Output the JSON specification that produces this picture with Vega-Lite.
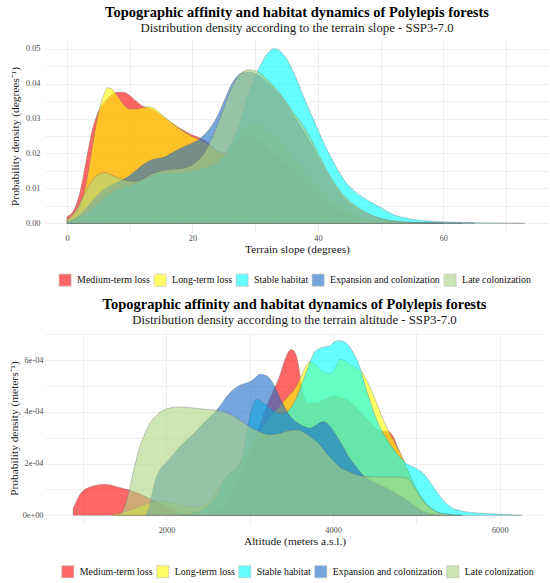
{
  "$schema": "https://vega.github.io/schema/vega-lite/v6.json",
  "padding": {"left": 8, "top": 4, "right": 0, "bottom": 0},
  "config": {
    "font": "Liberation Serif",
    "view": {"stroke": null},
    "axis": {"grid": true, "gridColor": "#EBEBEB", "gridWidth": 0.8, "domain": false, "ticks": false, "tickSize": 0, "labelFont": "Liberation Serif", "titleFont": "Liberation Serif", "labelColor": "#4D4D4D", "labelFontSize": 8.3, "labelPadding": 5, "titleFontSize": 11.4, "titleFontWeight": "normal", "titleColor": "#1A1A1A", "titlePadding": 5.3},
    "axisX": {"labelPadding": 1.5, "titlePadding": 2},
    "title": {"font": "Liberation Serif", "subtitleFont": "Liberation Serif", "fontSize": 14.5, "fontWeight": "bold", "color": "#000000", "subtitleFontSize": 12.8, "subtitleColor": "#1A1A1A", "anchor": "middle", "offset": 4, "subtitlePadding": 2},
    "legend": {"orient": "none", "direction": "horizontal", "title": null, "symbolType": "square", "symbolSize": 144, "symbolStrokeColor": "#888888", "symbolStrokeWidth": 0.6, "symbolOpacity": 0.6, "labelFont": "Liberation Serif", "labelFontSize": 9.9, "labelColor": "#111111", "labelOffset": 5.5, "columnPadding": 2, "padding": 0}
  },
  "spacing": 8,
  "resolve": {"scale": {"color": "independent"}, "legend": {"color": "independent"}},
  "datasets": {
    "slope": [
      {"g":"Medium-term loss","x":0,"d":0.0019},{"g":"Medium-term loss","x":1,"d":0.0035},{"g":"Medium-term loss","x":2,"d":0.0085},{"g":"Medium-term loss","x":3,"d":0.0175},{"g":"Medium-term loss","x":4,"d":0.0265},{"g":"Medium-term loss","x":5,"d":0.032},{"g":"Medium-term loss","x":6,"d":0.0348},{"g":"Medium-term loss","x":7,"d":0.0366},{"g":"Medium-term loss","x":8,"d":0.0375},{"g":"Medium-term loss","x":9,"d":0.0375},{"g":"Medium-term loss","x":10,"d":0.0366},{"g":"Medium-term loss","x":11,"d":0.035},{"g":"Medium-term loss","x":12,"d":0.0336},{"g":"Medium-term loss","x":13,"d":0.0331},{"g":"Medium-term loss","x":14,"d":0.0322},{"g":"Medium-term loss","x":15,"d":0.031},{"g":"Medium-term loss","x":16,"d":0.0296},{"g":"Medium-term loss","x":17,"d":0.0284},{"g":"Medium-term loss","x":18,"d":0.0272},{"g":"Medium-term loss","x":19,"d":0.0262},{"g":"Medium-term loss","x":20,"d":0.0253},{"g":"Medium-term loss","x":21,"d":0.0246},{"g":"Medium-term loss","x":22,"d":0.0237},{"g":"Medium-term loss","x":23,"d":0.0222},{"g":"Medium-term loss","x":24,"d":0.0207},{"g":"Medium-term loss","x":25,"d":0.0201},{"g":"Medium-term loss","x":26,"d":0.0208},{"g":"Medium-term loss","x":27,"d":0.0226},{"g":"Medium-term loss","x":28,"d":0.0243},{"g":"Medium-term loss","x":29,"d":0.0249},{"g":"Medium-term loss","x":30,"d":0.0245},{"g":"Medium-term loss","x":31,"d":0.0232},{"g":"Medium-term loss","x":32,"d":0.0215},{"g":"Medium-term loss","x":34,"d":0.0185},{"g":"Medium-term loss","x":36,"d":0.015},{"g":"Medium-term loss","x":38,"d":0.0115},{"g":"Medium-term loss","x":40,"d":0.008},{"g":"Medium-term loss","x":42,"d":0.0052},{"g":"Medium-term loss","x":44,"d":0.0032},{"g":"Medium-term loss","x":46,"d":0.0018},{"g":"Medium-term loss","x":48,"d":0.0009},{"g":"Medium-term loss","x":50,"d":0.0004},{"g":"Medium-term loss","x":53,"d":0.00015},{"g":"Medium-term loss","x":56,"d":0.00005},{"g":"Medium-term loss","x":60,"d":0},
      {"g":"Long-term loss","x":0,"d":0.001},{"g":"Long-term loss","x":1,"d":0.002},{"g":"Long-term loss","x":2,"d":0.0048},{"g":"Long-term loss","x":3,"d":0.011},{"g":"Long-term loss","x":4,"d":0.0215},{"g":"Long-term loss","x":5,"d":0.0315},{"g":"Long-term loss","x":6,"d":0.0374},{"g":"Long-term loss","x":6.5,"d":0.0388},{"g":"Long-term loss","x":7,"d":0.0386},{"g":"Long-term loss","x":8,"d":0.0366},{"g":"Long-term loss","x":9,"d":0.034},{"g":"Long-term loss","x":10,"d":0.0327},{"g":"Long-term loss","x":11,"d":0.0327},{"g":"Long-term loss","x":12,"d":0.0331},{"g":"Long-term loss","x":13,"d":0.0334},{"g":"Long-term loss","x":14,"d":0.0328},{"g":"Long-term loss","x":15,"d":0.0313},{"g":"Long-term loss","x":16,"d":0.0297},{"g":"Long-term loss","x":17,"d":0.0283},{"g":"Long-term loss","x":18,"d":0.027},{"g":"Long-term loss","x":19,"d":0.0258},{"g":"Long-term loss","x":20,"d":0.0248},{"g":"Long-term loss","x":21,"d":0.0241},{"g":"Long-term loss","x":22,"d":0.0233},{"g":"Long-term loss","x":23,"d":0.0218},{"g":"Long-term loss","x":24,"d":0.0204},{"g":"Long-term loss","x":25,"d":0.02},{"g":"Long-term loss","x":26,"d":0.0212},{"g":"Long-term loss","x":27,"d":0.0238},{"g":"Long-term loss","x":28,"d":0.0268},{"g":"Long-term loss","x":29,"d":0.0284},{"g":"Long-term loss","x":30,"d":0.0285},{"g":"Long-term loss","x":31,"d":0.0278},{"g":"Long-term loss","x":32,"d":0.0266},{"g":"Long-term loss","x":34,"d":0.0235},{"g":"Long-term loss","x":36,"d":0.0192},{"g":"Long-term loss","x":38,"d":0.0148},{"g":"Long-term loss","x":40,"d":0.0106},{"g":"Long-term loss","x":42,"d":0.0071},{"g":"Long-term loss","x":44,"d":0.0045},{"g":"Long-term loss","x":46,"d":0.0027},{"g":"Long-term loss","x":48,"d":0.0015},{"g":"Long-term loss","x":50,"d":0.0008},{"g":"Long-term loss","x":53,"d":0.0003},{"g":"Long-term loss","x":56,"d":0.0001},{"g":"Long-term loss","x":60,"d":0},
      {"g":"Stable habitat","x":0,"d":0.0003},{"g":"Stable habitat","x":1,"d":0.0008},{"g":"Stable habitat","x":2,"d":0.0016},{"g":"Stable habitat","x":3,"d":0.0028},{"g":"Stable habitat","x":4,"d":0.0042},{"g":"Stable habitat","x":5,"d":0.0058},{"g":"Stable habitat","x":6,"d":0.0074},{"g":"Stable habitat","x":7,"d":0.0086},{"g":"Stable habitat","x":8,"d":0.0095},{"g":"Stable habitat","x":9,"d":0.0101},{"g":"Stable habitat","x":10,"d":0.0107},{"g":"Stable habitat","x":11,"d":0.0114},{"g":"Stable habitat","x":12,"d":0.0123},{"g":"Stable habitat","x":13,"d":0.0132},{"g":"Stable habitat","x":14,"d":0.0139},{"g":"Stable habitat","x":15,"d":0.0142},{"g":"Stable habitat","x":16,"d":0.0142},{"g":"Stable habitat","x":17,"d":0.0142},{"g":"Stable habitat","x":18,"d":0.0143},{"g":"Stable habitat","x":19,"d":0.0146},{"g":"Stable habitat","x":20,"d":0.015},{"g":"Stable habitat","x":21,"d":0.0154},{"g":"Stable habitat","x":22,"d":0.0159},{"g":"Stable habitat","x":23,"d":0.0165},{"g":"Stable habitat","x":24,"d":0.0175},{"g":"Stable habitat","x":25,"d":0.0192},{"g":"Stable habitat","x":26,"d":0.022},{"g":"Stable habitat","x":27,"d":0.0262},{"g":"Stable habitat","x":28,"d":0.0315},{"g":"Stable habitat","x":29,"d":0.0372},{"g":"Stable habitat","x":30,"d":0.042},{"g":"Stable habitat","x":31,"d":0.0458},{"g":"Stable habitat","x":32,"d":0.0487},{"g":"Stable habitat","x":33,"d":0.05},{"g":"Stable habitat","x":34,"d":0.0493},{"g":"Stable habitat","x":35,"d":0.0471},{"g":"Stable habitat","x":36,"d":0.0437},{"g":"Stable habitat","x":37,"d":0.0395},{"g":"Stable habitat","x":38,"d":0.0351},{"g":"Stable habitat","x":39,"d":0.031},{"g":"Stable habitat","x":40,"d":0.0268},{"g":"Stable habitat","x":41,"d":0.0228},{"g":"Stable habitat","x":42,"d":0.0192},{"g":"Stable habitat","x":43,"d":0.0158},{"g":"Stable habitat","x":44,"d":0.0129},{"g":"Stable habitat","x":45,"d":0.0106},{"g":"Stable habitat","x":46,"d":0.0089},{"g":"Stable habitat","x":47,"d":0.0076},{"g":"Stable habitat","x":48,"d":0.0065},{"g":"Stable habitat","x":49,"d":0.0055},{"g":"Stable habitat","x":50,"d":0.0045},{"g":"Stable habitat","x":52,"d":0.0025},{"g":"Stable habitat","x":54,"d":0.0015},{"g":"Stable habitat","x":56,"d":0.0009},{"g":"Stable habitat","x":58,"d":0.0006},{"g":"Stable habitat","x":60,"d":0.0004},{"g":"Stable habitat","x":62,"d":0.0003},{"g":"Stable habitat","x":64,"d":0.0002},{"g":"Stable habitat","x":67,"d":0.0001},{"g":"Stable habitat","x":70,"d":0.00004},{"g":"Stable habitat","x":73,"d":0},
      {"g":"Expansion and colonization","x":0,"d":0.0004},{"g":"Expansion and colonization","x":1,"d":0.0012},{"g":"Expansion and colonization","x":2,"d":0.0025},{"g":"Expansion and colonization","x":3,"d":0.0043},{"g":"Expansion and colonization","x":4,"d":0.0063},{"g":"Expansion and colonization","x":5,"d":0.0083},{"g":"Expansion and colonization","x":6,"d":0.0098},{"g":"Expansion and colonization","x":7,"d":0.0108},{"g":"Expansion and colonization","x":8,"d":0.0117},{"g":"Expansion and colonization","x":9,"d":0.0126},{"g":"Expansion and colonization","x":10,"d":0.0137},{"g":"Expansion and colonization","x":11,"d":0.0152},{"g":"Expansion and colonization","x":12,"d":0.0166},{"g":"Expansion and colonization","x":13,"d":0.0178},{"g":"Expansion and colonization","x":14,"d":0.0184},{"g":"Expansion and colonization","x":15,"d":0.0187},{"g":"Expansion and colonization","x":16,"d":0.0194},{"g":"Expansion and colonization","x":17,"d":0.0204},{"g":"Expansion and colonization","x":18,"d":0.0214},{"g":"Expansion and colonization","x":19,"d":0.0222},{"g":"Expansion and colonization","x":20,"d":0.023},{"g":"Expansion and colonization","x":21,"d":0.024},{"g":"Expansion and colonization","x":22,"d":0.0256},{"g":"Expansion and colonization","x":23,"d":0.0278},{"g":"Expansion and colonization","x":24,"d":0.0308},{"g":"Expansion and colonization","x":25,"d":0.0348},{"g":"Expansion and colonization","x":26,"d":0.039},{"g":"Expansion and colonization","x":27,"d":0.0418},{"g":"Expansion and colonization","x":28,"d":0.0432},{"g":"Expansion and colonization","x":29,"d":0.0434},{"g":"Expansion and colonization","x":30,"d":0.0429},{"g":"Expansion and colonization","x":31,"d":0.0418},{"g":"Expansion and colonization","x":32,"d":0.0403},{"g":"Expansion and colonization","x":33,"d":0.0386},{"g":"Expansion and colonization","x":34,"d":0.0366},{"g":"Expansion and colonization","x":35,"d":0.0342},{"g":"Expansion and colonization","x":36,"d":0.0312},{"g":"Expansion and colonization","x":37,"d":0.0285},{"g":"Expansion and colonization","x":38,"d":0.0257},{"g":"Expansion and colonization","x":39,"d":0.0226},{"g":"Expansion and colonization","x":40,"d":0.0193},{"g":"Expansion and colonization","x":41,"d":0.016},{"g":"Expansion and colonization","x":42,"d":0.0128},{"g":"Expansion and colonization","x":43,"d":0.0101},{"g":"Expansion and colonization","x":44,"d":0.0078},{"g":"Expansion and colonization","x":45,"d":0.006},{"g":"Expansion and colonization","x":46,"d":0.0046},{"g":"Expansion and colonization","x":47,"d":0.0035},{"g":"Expansion and colonization","x":48,"d":0.0026},{"g":"Expansion and colonization","x":49,"d":0.0019},{"g":"Expansion and colonization","x":50,"d":0.0013},{"g":"Expansion and colonization","x":52,"d":0.0006},{"g":"Expansion and colonization","x":55,"d":0.0002},{"g":"Expansion and colonization","x":60,"d":0.00005},{"g":"Expansion and colonization","x":63,"d":0},
      {"g":"Late colonization","x":0,"d":0.001},{"g":"Late colonization","x":1,"d":0.0028},{"g":"Late colonization","x":2,"d":0.0056},{"g":"Late colonization","x":3,"d":0.0092},{"g":"Late colonization","x":4,"d":0.0122},{"g":"Late colonization","x":5,"d":0.014},{"g":"Late colonization","x":6,"d":0.0145},{"g":"Late colonization","x":7,"d":0.0139},{"g":"Late colonization","x":8,"d":0.0131},{"g":"Late colonization","x":9,"d":0.0125},{"g":"Late colonization","x":10,"d":0.0121},{"g":"Late colonization","x":11,"d":0.012},{"g":"Late colonization","x":12,"d":0.0126},{"g":"Late colonization","x":13,"d":0.0136},{"g":"Late colonization","x":14,"d":0.0145},{"g":"Late colonization","x":15,"d":0.015},{"g":"Late colonization","x":16,"d":0.0153},{"g":"Late colonization","x":17,"d":0.0155},{"g":"Late colonization","x":18,"d":0.0157},{"g":"Late colonization","x":19,"d":0.016},{"g":"Late colonization","x":20,"d":0.0168},{"g":"Late colonization","x":21,"d":0.0182},{"g":"Late colonization","x":22,"d":0.0205},{"g":"Late colonization","x":23,"d":0.024},{"g":"Late colonization","x":24,"d":0.0282},{"g":"Late colonization","x":25,"d":0.033},{"g":"Late colonization","x":26,"d":0.0378},{"g":"Late colonization","x":27,"d":0.0413},{"g":"Late colonization","x":28,"d":0.0433},{"g":"Late colonization","x":29,"d":0.044},{"g":"Late colonization","x":30,"d":0.0437},{"g":"Late colonization","x":31,"d":0.0426},{"g":"Late colonization","x":32,"d":0.0411},{"g":"Late colonization","x":33,"d":0.0392},{"g":"Late colonization","x":34,"d":0.037},{"g":"Late colonization","x":35,"d":0.0346},{"g":"Late colonization","x":36,"d":0.032},{"g":"Late colonization","x":37,"d":0.0296},{"g":"Late colonization","x":38,"d":0.027},{"g":"Late colonization","x":39,"d":0.0238},{"g":"Late colonization","x":40,"d":0.0202},{"g":"Late colonization","x":41,"d":0.0166},{"g":"Late colonization","x":42,"d":0.0133},{"g":"Late colonization","x":43,"d":0.0106},{"g":"Late colonization","x":44,"d":0.0083},{"g":"Late colonization","x":45,"d":0.0065},{"g":"Late colonization","x":46,"d":0.005},{"g":"Late colonization","x":47,"d":0.0038},{"g":"Late colonization","x":48,"d":0.0028},{"g":"Late colonization","x":49,"d":0.002},{"g":"Late colonization","x":50,"d":0.0014},{"g":"Late colonization","x":52,"d":0.0007},{"g":"Late colonization","x":55,"d":0.0003},{"g":"Late colonization","x":60,"d":0.0001},{"g":"Late colonization","x":65,"d":0}
    ],
    "alt": [
      {"g":"Medium-term loss","x":879,"d":0.26e-4},{"g":"Medium-term loss","x":920,"d":0.55e-4},{"g":"Medium-term loss","x":960,"d":0.8e-4},{"g":"Medium-term loss","x":1000,"d":0.95e-4},{"g":"Medium-term loss","x":1050,"d":1.05e-4},{"g":"Medium-term loss","x":1100,"d":1.11e-4},{"g":"Medium-term loss","x":1160,"d":1.16e-4},{"g":"Medium-term loss","x":1260,"d":1.2e-4},{"g":"Medium-term loss","x":1330,"d":1.17e-4},{"g":"Medium-term loss","x":1400,"d":1.1e-4},{"g":"Medium-term loss","x":1480,"d":1.04e-4},{"g":"Medium-term loss","x":1560,"d":0.97e-4},{"g":"Medium-term loss","x":1640,"d":0.88e-4},{"g":"Medium-term loss","x":1720,"d":0.77e-4},{"g":"Medium-term loss","x":1800,"d":0.65e-4},{"g":"Medium-term loss","x":1880,"d":0.52e-4},{"g":"Medium-term loss","x":1960,"d":0.4e-4},{"g":"Medium-term loss","x":2040,"d":0.27e-4},{"g":"Medium-term loss","x":2120,"d":0.16e-4},{"g":"Medium-term loss","x":2200,"d":0.08e-4},{"g":"Medium-term loss","x":2300,"d":0.04e-4},{"g":"Medium-term loss","x":2400,"d":0.03e-4},{"g":"Medium-term loss","x":2500,"d":0.06e-4},{"g":"Medium-term loss","x":2600,"d":0.15e-4},{"g":"Medium-term loss","x":2700,"d":0.4e-4},{"g":"Medium-term loss","x":2800,"d":0.9e-4},{"g":"Medium-term loss","x":2900,"d":1.6e-4},{"g":"Medium-term loss","x":3000,"d":2.4e-4},{"g":"Medium-term loss","x":3100,"d":3.3e-4},{"g":"Medium-term loss","x":3200,"d":4.2e-4},{"g":"Medium-term loss","x":3280,"d":4.8e-4},{"g":"Medium-term loss","x":3360,"d":5.4e-4},{"g":"Medium-term loss","x":3420,"d":6.0e-4},{"g":"Medium-term loss","x":3470,"d":6.35e-4},{"g":"Medium-term loss","x":3500,"d":6.41e-4},{"g":"Medium-term loss","x":3530,"d":6.35e-4},{"g":"Medium-term loss","x":3560,"d":6.15e-4},{"g":"Medium-term loss","x":3590,"d":5.7e-4},{"g":"Medium-term loss","x":3620,"d":5.0e-4},{"g":"Medium-term loss","x":3660,"d":4.5e-4},{"g":"Medium-term loss","x":3700,"d":4.35e-4},{"g":"Medium-term loss","x":3800,"d":4.35e-4},{"g":"Medium-term loss","x":3900,"d":4.5e-4},{"g":"Medium-term loss","x":4000,"d":4.6e-4},{"g":"Medium-term loss","x":4100,"d":4.55e-4},{"g":"Medium-term loss","x":4200,"d":4.4e-4},{"g":"Medium-term loss","x":4300,"d":4.1e-4},{"g":"Medium-term loss","x":4400,"d":3.75e-4},{"g":"Medium-term loss","x":4500,"d":3.4e-4},{"g":"Medium-term loss","x":4580,"d":3.25e-4},{"g":"Medium-term loss","x":4660,"d":3.25e-4},{"g":"Medium-term loss","x":4720,"d":3.05e-4},{"g":"Medium-term loss","x":4780,"d":2.6e-4},{"g":"Medium-term loss","x":4860,"d":2.0e-4},{"g":"Medium-term loss","x":4950,"d":1.35e-4},{"g":"Medium-term loss","x":5050,"d":0.75e-4},{"g":"Medium-term loss","x":5150,"d":0.35e-4},{"g":"Medium-term loss","x":5250,"d":0.12e-4},{"g":"Medium-term loss","x":5400,"d":0.03e-4},{"g":"Medium-term loss","x":5550,"d":0},
      {"g":"Long-term loss","x":1350,"d":0.02e-4},{"g":"Long-term loss","x":1450,"d":0.08e-4},{"g":"Long-term loss","x":1550,"d":0.18e-4},{"g":"Long-term loss","x":1650,"d":0.3e-4},{"g":"Long-term loss","x":1750,"d":0.42e-4},{"g":"Long-term loss","x":1850,"d":0.52e-4},{"g":"Long-term loss","x":1950,"d":0.55e-4},{"g":"Long-term loss","x":2050,"d":0.5e-4},{"g":"Long-term loss","x":2150,"d":0.42e-4},{"g":"Long-term loss","x":2250,"d":0.35e-4},{"g":"Long-term loss","x":2350,"d":0.33e-4},{"g":"Long-term loss","x":2450,"d":0.42e-4},{"g":"Long-term loss","x":2550,"d":0.7e-4},{"g":"Long-term loss","x":2650,"d":1.15e-4},{"g":"Long-term loss","x":2750,"d":1.55e-4},{"g":"Long-term loss","x":2850,"d":1.9e-4},{"g":"Long-term loss","x":2950,"d":2.35e-4},{"g":"Long-term loss","x":3050,"d":2.9e-4},{"g":"Long-term loss","x":3150,"d":3.4e-4},{"g":"Long-term loss","x":3250,"d":3.85e-4},{"g":"Long-term loss","x":3350,"d":4.2e-4},{"g":"Long-term loss","x":3450,"d":4.55e-4},{"g":"Long-term loss","x":3550,"d":4.95e-4},{"g":"Long-term loss","x":3620,"d":5.4e-4},{"g":"Long-term loss","x":3680,"d":5.8e-4},{"g":"Long-term loss","x":3720,"d":5.93e-4},{"g":"Long-term loss","x":3780,"d":5.85e-4},{"g":"Long-term loss","x":3860,"d":5.6e-4},{"g":"Long-term loss","x":3960,"d":5.48e-4},{"g":"Long-term loss","x":4020,"d":5.65e-4},{"g":"Long-term loss","x":4080,"d":6.03e-4},{"g":"Long-term loss","x":4140,"d":5.98e-4},{"g":"Long-term loss","x":4220,"d":5.8e-4},{"g":"Long-term loss","x":4300,"d":5.65e-4},{"g":"Long-term loss","x":4340,"d":5.55e-4},{"g":"Long-term loss","x":4390,"d":5.3e-4},{"g":"Long-term loss","x":4440,"d":4.97e-4},{"g":"Long-term loss","x":4490,"d":4.6e-4},{"g":"Long-term loss","x":4540,"d":4.2e-4},{"g":"Long-term loss","x":4580,"d":3.85e-4},{"g":"Long-term loss","x":4620,"d":3.55e-4},{"g":"Long-term loss","x":4680,"d":3.16e-4},{"g":"Long-term loss","x":4740,"d":2.8e-4},{"g":"Long-term loss","x":4800,"d":2.45e-4},{"g":"Long-term loss","x":4880,"d":1.87e-4},{"g":"Long-term loss","x":4960,"d":1.3e-4},{"g":"Long-term loss","x":5050,"d":0.75e-4},{"g":"Long-term loss","x":5150,"d":0.35e-4},{"g":"Long-term loss","x":5250,"d":0.13e-4},{"g":"Long-term loss","x":5400,"d":0.03e-4},{"g":"Long-term loss","x":5550,"d":0},
      {"g":"Stable habitat","x":2150,"d":0.01e-4},{"g":"Stable habitat","x":2250,"d":0.04e-4},{"g":"Stable habitat","x":2350,"d":0.1e-4},{"g":"Stable habitat","x":2450,"d":0.22e-4},{"g":"Stable habitat","x":2550,"d":0.5e-4},{"g":"Stable habitat","x":2620,"d":0.85e-4},{"g":"Stable habitat","x":2680,"d":1.3e-4},{"g":"Stable habitat","x":2740,"d":1.55e-4},{"g":"Stable habitat","x":2800,"d":1.7e-4},{"g":"Stable habitat","x":2860,"d":1.85e-4},{"g":"Stable habitat","x":2920,"d":2.4e-4},{"g":"Stable habitat","x":2960,"d":3.1e-4},{"g":"Stable habitat","x":3000,"d":3.8e-4},{"g":"Stable habitat","x":3040,"d":4.3e-4},{"g":"Stable habitat","x":3080,"d":4.48e-4},{"g":"Stable habitat","x":3120,"d":4.45e-4},{"g":"Stable habitat","x":3180,"d":4.3e-4},{"g":"Stable habitat","x":3260,"d":4.1e-4},{"g":"Stable habitat","x":3340,"d":3.95e-4},{"g":"Stable habitat","x":3420,"d":3.95e-4},{"g":"Stable habitat","x":3500,"d":4.2e-4},{"g":"Stable habitat","x":3580,"d":4.7e-4},{"g":"Stable habitat","x":3650,"d":5.3e-4},{"g":"Stable habitat","x":3720,"d":5.9e-4},{"g":"Stable habitat","x":3780,"d":6.32e-4},{"g":"Stable habitat","x":3840,"d":6.45e-4},{"g":"Stable habitat","x":3880,"d":6.5e-4},{"g":"Stable habitat","x":3920,"d":6.52e-4},{"g":"Stable habitat","x":3960,"d":6.55e-4},{"g":"Stable habitat","x":4000,"d":6.67e-4},{"g":"Stable habitat","x":4050,"d":6.75e-4},{"g":"Stable habitat","x":4100,"d":6.74e-4},{"g":"Stable habitat","x":4160,"d":6.65e-4},{"g":"Stable habitat","x":4200,"d":6.5e-4},{"g":"Stable habitat","x":4240,"d":6.3e-4},{"g":"Stable habitat","x":4280,"d":6.05e-4},{"g":"Stable habitat","x":4320,"d":5.74e-4},{"g":"Stable habitat","x":4360,"d":5.3e-4},{"g":"Stable habitat","x":4400,"d":4.84e-4},{"g":"Stable habitat","x":4440,"d":4.45e-4},{"g":"Stable habitat","x":4480,"d":4.06e-4},{"g":"Stable habitat","x":4520,"d":3.72e-4},{"g":"Stable habitat","x":4560,"d":3.42e-4},{"g":"Stable habitat","x":4620,"d":3.08e-4},{"g":"Stable habitat","x":4680,"d":2.77e-4},{"g":"Stable habitat","x":4740,"d":2.5e-4},{"g":"Stable habitat","x":4800,"d":2.26e-4},{"g":"Stable habitat","x":4880,"d":2.0e-4},{"g":"Stable habitat","x":4940,"d":1.9e-4},{"g":"Stable habitat","x":5000,"d":1.81e-4},{"g":"Stable habitat","x":5060,"d":1.68e-4},{"g":"Stable habitat","x":5120,"d":1.48e-4},{"g":"Stable habitat","x":5160,"d":1.3e-4},{"g":"Stable habitat","x":5200,"d":1.1e-4},{"g":"Stable habitat","x":5260,"d":0.83e-4},{"g":"Stable habitat","x":5320,"d":0.58e-4},{"g":"Stable habitat","x":5380,"d":0.4e-4},{"g":"Stable habitat","x":5440,"d":0.26e-4},{"g":"Stable habitat","x":5520,"d":0.18e-4},{"g":"Stable habitat","x":5600,"d":0.13e-4},{"g":"Stable habitat","x":5740,"d":0.09e-4},{"g":"Stable habitat","x":5880,"d":0.06e-4},{"g":"Stable habitat","x":6000,"d":0.04e-4},{"g":"Stable habitat","x":6120,"d":0.02e-4},{"g":"Stable habitat","x":6260,"d":0},
      {"g":"Expansion and colonization","x":1750,"d":0.03e-4},{"g":"Expansion and colonization","x":1790,"d":0.3e-4},{"g":"Expansion and colonization","x":1830,"d":0.9e-4},{"g":"Expansion and colonization","x":1870,"d":1.4e-4},{"g":"Expansion and colonization","x":1920,"d":1.75e-4},{"g":"Expansion and colonization","x":2000,"d":2.05e-4},{"g":"Expansion and colonization","x":2080,"d":2.35e-4},{"g":"Expansion and colonization","x":2160,"d":2.65e-4},{"g":"Expansion and colonization","x":2240,"d":2.9e-4},{"g":"Expansion and colonization","x":2340,"d":3.2e-4},{"g":"Expansion and colonization","x":2440,"d":3.55e-4},{"g":"Expansion and colonization","x":2520,"d":3.8e-4},{"g":"Expansion and colonization","x":2600,"d":4.05e-4},{"g":"Expansion and colonization","x":2660,"d":4.3e-4},{"g":"Expansion and colonization","x":2720,"d":4.58e-4},{"g":"Expansion and colonization","x":2800,"d":4.85e-4},{"g":"Expansion and colonization","x":2880,"d":5.03e-4},{"g":"Expansion and colonization","x":2940,"d":5.1e-4},{"g":"Expansion and colonization","x":3000,"d":5.16e-4},{"g":"Expansion and colonization","x":3060,"d":5.3e-4},{"g":"Expansion and colonization","x":3120,"d":5.45e-4},{"g":"Expansion and colonization","x":3180,"d":5.42e-4},{"g":"Expansion and colonization","x":3240,"d":5.29e-4},{"g":"Expansion and colonization","x":3280,"d":5.1e-4},{"g":"Expansion and colonization","x":3320,"d":4.84e-4},{"g":"Expansion and colonization","x":3360,"d":4.55e-4},{"g":"Expansion and colonization","x":3400,"d":4.3e-4},{"g":"Expansion and colonization","x":3440,"d":4.05e-4},{"g":"Expansion and colonization","x":3480,"d":3.85e-4},{"g":"Expansion and colonization","x":3540,"d":3.65e-4},{"g":"Expansion and colonization","x":3600,"d":3.52e-4},{"g":"Expansion and colonization","x":3660,"d":3.42e-4},{"g":"Expansion and colonization","x":3720,"d":3.37e-4},{"g":"Expansion and colonization","x":3780,"d":3.45e-4},{"g":"Expansion and colonization","x":3840,"d":3.58e-4},{"g":"Expansion and colonization","x":3880,"d":3.62e-4},{"g":"Expansion and colonization","x":3920,"d":3.58e-4},{"g":"Expansion and colonization","x":3960,"d":3.45e-4},{"g":"Expansion and colonization","x":4000,"d":3.28e-4},{"g":"Expansion and colonization","x":4060,"d":2.98e-4},{"g":"Expansion and colonization","x":4120,"d":2.65e-4},{"g":"Expansion and colonization","x":4200,"d":2.2e-4},{"g":"Expansion and colonization","x":4280,"d":1.87e-4},{"g":"Expansion and colonization","x":4340,"d":1.62e-4},{"g":"Expansion and colonization","x":4400,"d":1.45e-4},{"g":"Expansion and colonization","x":4460,"d":1.33e-4},{"g":"Expansion and colonization","x":4520,"d":1.23e-4},{"g":"Expansion and colonization","x":4640,"d":1.05e-4},{"g":"Expansion and colonization","x":4760,"d":0.84e-4},{"g":"Expansion and colonization","x":4880,"d":0.6e-4},{"g":"Expansion and colonization","x":5000,"d":0.32e-4},{"g":"Expansion and colonization","x":5080,"d":0.16e-4},{"g":"Expansion and colonization","x":5160,"d":0.06e-4},{"g":"Expansion and colonization","x":5300,"d":0.01e-4},
      {"g":"Late colonization","x":1420,"d":0.02e-4},{"g":"Late colonization","x":1480,"d":0.2e-4},{"g":"Late colonization","x":1530,"d":0.7e-4},{"g":"Late colonization","x":1580,"d":1.35e-4},{"g":"Late colonization","x":1630,"d":2.05e-4},{"g":"Late colonization","x":1680,"d":2.65e-4},{"g":"Late colonization","x":1740,"d":3.15e-4},{"g":"Late colonization","x":1800,"d":3.55e-4},{"g":"Late colonization","x":1880,"d":3.86e-4},{"g":"Late colonization","x":1960,"d":4.06e-4},{"g":"Late colonization","x":2040,"d":4.15e-4},{"g":"Late colonization","x":2120,"d":4.19e-4},{"g":"Late colonization","x":2220,"d":4.18e-4},{"g":"Late colonization","x":2320,"d":4.15e-4},{"g":"Late colonization","x":2460,"d":4.1e-4},{"g":"Late colonization","x":2600,"d":4.06e-4},{"g":"Late colonization","x":2720,"d":3.96e-4},{"g":"Late colonization","x":2800,"d":3.85e-4},{"g":"Late colonization","x":2880,"d":3.68e-4},{"g":"Late colonization","x":2960,"d":3.5e-4},{"g":"Late colonization","x":3040,"d":3.35e-4},{"g":"Late colonization","x":3140,"d":3.2e-4},{"g":"Late colonization","x":3240,"d":3.12e-4},{"g":"Late colonization","x":3340,"d":3.15e-4},{"g":"Late colonization","x":3440,"d":3.25e-4},{"g":"Late colonization","x":3520,"d":3.3e-4},{"g":"Late colonization","x":3580,"d":3.3e-4},{"g":"Late colonization","x":3640,"d":3.22e-4},{"g":"Late colonization","x":3720,"d":3.05e-4},{"g":"Late colonization","x":3800,"d":2.85e-4},{"g":"Late colonization","x":3860,"d":2.65e-4},{"g":"Late colonization","x":3920,"d":2.4e-4},{"g":"Late colonization","x":4000,"d":2.12e-4},{"g":"Late colonization","x":4080,"d":1.87e-4},{"g":"Late colonization","x":4180,"d":1.7e-4},{"g":"Late colonization","x":4280,"d":1.57e-4},{"g":"Late colonization","x":4400,"d":1.5e-4},{"g":"Late colonization","x":4520,"d":1.48e-4},{"g":"Late colonization","x":4640,"d":1.48e-4},{"g":"Late colonization","x":4760,"d":1.48e-4},{"g":"Late colonization","x":4840,"d":1.47e-4},{"g":"Late colonization","x":4900,"d":1.4e-4},{"g":"Late colonization","x":4960,"d":1.15e-4},{"g":"Late colonization","x":5020,"d":0.85e-4},{"g":"Late colonization","x":5080,"d":0.55e-4},{"g":"Late colonization","x":5160,"d":0.3e-4},{"g":"Late colonization","x":5240,"d":0.14e-4},{"g":"Late colonization","x":5340,"d":0.05e-4},{"g":"Late colonization","x":5450,"d":0.01e-4}
    ]
  },
  "vconcat": [
    {
      "width": 504,
      "height": 192,
      "title": {"text": "Topographic affinity and habitat dynamics of Polylepis forests", "subtitle": "Distribution density according to the terrain slope - SSP3-7.0"},
      "data": {"name": "slope"},
      "encoding": {
        "x": {"field": "x", "type": "quantitative", "scale": {"domain": [-3.52, 76.86], "nice": false, "zero": false}, "axis": {"title": "Terrain slope (degrees)", "titleFontWeight": "normal", "values": [0, 10, 20, 30, 40, 50, 60, 70], "labelExpr": "datum.value % 20 === 0 ? datum.label : ''"}},
        "y": {"field": "d", "type": "quantitative", "stack": null, "scale": {"domain": [-0.0025, 0.0525], "nice": false, "zero": false}, "axis": {"title": "Probability density (degrees⁻¹)", "titleFontWeight": "normal", "values": [0, 0.005, 0.01, 0.015, 0.02, 0.025, 0.03, 0.035, 0.04, 0.045, 0.05], "labelExpr": "round(datum.value * 1000) % 10 === 0 ? format(datum.value, '.2f') : ''"}},
        "color": {"field": "g", "type": "nominal", "scale": {"domain": ["Medium-term loss", "Long-term loss", "Stable habitat", "Expansion and colonization", "Late colonization"], "range": ["#FF0000", "#FFFF00", "#00FFFF", "#1A6BC8", "#ACD582"]}, "legend": {"legendX": 13.6, "legendY": 233.5, "labelFont": "Liberation Serif"}}
      },
      "layer": [
        {"transform": [{"filter": "datum.g === 'Medium-term loss'"}], "mark": {"type": "area", "interpolate": "monotone", "fillOpacity": 0.6, "stroke": "#666666", "strokeWidth": 0.5, "strokeOpacity": 0.7}},
        {"transform": [{"filter": "datum.g === 'Long-term loss'"}], "mark": {"type": "area", "interpolate": "monotone", "fillOpacity": 0.6, "stroke": "#666666", "strokeWidth": 0.5, "strokeOpacity": 0.7}},
        {"transform": [{"filter": "datum.g === 'Stable habitat'"}], "mark": {"type": "area", "interpolate": "monotone", "fillOpacity": 0.6, "stroke": "#666666", "strokeWidth": 0.5, "strokeOpacity": 0.7}},
        {"transform": [{"filter": "datum.g === 'Expansion and colonization'"}], "mark": {"type": "area", "interpolate": "monotone", "fillOpacity": 0.6, "stroke": "#666666", "strokeWidth": 0.5, "strokeOpacity": 0.7}},
        {"transform": [{"filter": "datum.g === 'Late colonization'"}], "mark": {"type": "area", "interpolate": "monotone", "fillOpacity": 0.6, "stroke": "#666666", "strokeWidth": 0.5, "strokeOpacity": 0.7}}
      ]
    },
    {
      "width": 499,
      "height": 192,
      "title": {"text": "Topographic affinity and habitat dynamics of Polylepis forests", "subtitle": "Distribution density according to the terrain altitude - SSP3-7.0"},
      "data": {"name": "alt"},
      "encoding": {
        "x": {"field": "x", "type": "quantitative", "scale": {"domain": [542, 6531], "nice": false, "zero": false}, "axis": {"title": "Altitude (meters a.s.l.)", "titleFontWeight": "normal", "values": [1000, 2000, 3000, 4000, 5000, 6000], "format": "d", "labelExpr": "datum.value % 2000 === 0 ? datum.label : ''"}},
        "y": {"field": "d", "type": "quantitative", "stack": null, "scale": {"domain": [-0.00003375, 0.00070875], "nice": false, "zero": false}, "axis": {"title": "Probability density (meters⁻¹)", "titleFontWeight": "normal", "labelPadding": 2, "titlePadding": 3, "values": [0, 0.0001, 0.0002, 0.0003, 0.0004, 0.0005, 0.0006, 0.0007], "labelExpr": "round(datum.value * 10000) % 2 === 0 ? replace(replace(format(datum.value, '.0e'), 'e-', 'e-0'), 'e+', 'e+0') : ''"}},
        "color": {"field": "g", "type": "nominal", "scale": {"domain": ["Medium-term loss", "Long-term loss", "Stable habitat", "Expansion and colonization", "Late colonization"], "range": ["#FF0000", "#FFFF00", "#00FFFF", "#1A6BC8", "#ACD582"]}, "legend": {"legendX": 16.3, "legendY": 233.1, "labelFont": "Liberation Serif"}}
      },
      "layer": [
        {"transform": [{"filter": "datum.g === 'Medium-term loss'"}], "mark": {"type": "area", "interpolate": "monotone", "fillOpacity": 0.6, "stroke": "#666666", "strokeWidth": 0.5, "strokeOpacity": 0.7}},
        {"transform": [{"filter": "datum.g === 'Long-term loss'"}], "mark": {"type": "area", "interpolate": "monotone", "fillOpacity": 0.6, "stroke": "#666666", "strokeWidth": 0.5, "strokeOpacity": 0.7}},
        {"transform": [{"filter": "datum.g === 'Stable habitat'"}], "mark": {"type": "area", "interpolate": "monotone", "fillOpacity": 0.6, "stroke": "#666666", "strokeWidth": 0.5, "strokeOpacity": 0.7}},
        {"transform": [{"filter": "datum.g === 'Expansion and colonization'"}], "mark": {"type": "area", "interpolate": "monotone", "fillOpacity": 0.6, "stroke": "#666666", "strokeWidth": 0.5, "strokeOpacity": 0.7}},
        {"transform": [{"filter": "datum.g === 'Late colonization'"}], "mark": {"type": "area", "interpolate": "monotone", "fillOpacity": 0.6, "stroke": "#666666", "strokeWidth": 0.5, "strokeOpacity": 0.7}}
      ]
    }
  ]
}
